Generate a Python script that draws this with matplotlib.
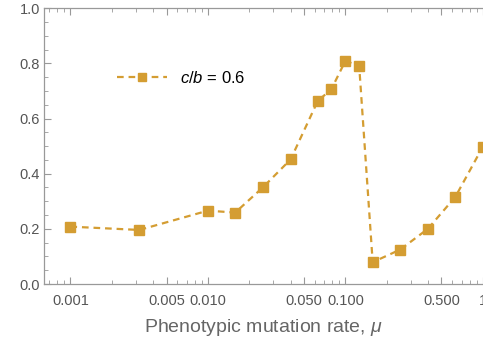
import matplotlib
matplotlib.use("Agg")
import matplotlib.pyplot as plt
import matplotlib.ticker as mticker
import numpy as np

plt.rcParams['font.family'] = ['Liberation Sans', 'DejaVu Sans']
plt.rcParams['mathtext.fontset'] = 'custom'
plt.rcParams['mathtext.rm'] = 'Liberation Sans'
plt.rcParams['mathtext.it'] = 'Liberation Sans:italic'

mu = [0.001, 0.00317, 0.01, 0.0158, 0.0252, 0.040, 0.063, 0.079, 0.1, 0.126, 0.158, 0.251, 0.398, 0.631, 1.0]
freq = [0.208, 0.196, 0.266, 0.259, 0.351, 0.452, 0.664, 0.706, 0.809, 0.791, 0.079, 0.125, 0.200, 0.316, 0.498]
series_label = r'$c/b$ = 0.6'
xlabel = r'Phenotypic mutation rate, $\mu$'
xticks = [0.001, 0.005, 0.010, 0.050, 0.100, 0.500, 1]
xticklabels = ['0.001', '0.005', '0.010', '0.050', '0.100', '0.500', '1']
yticks = [0.0, 0.2, 0.4, 0.6, 0.8, 1.0]

color = '#D49D32'
gray = '#999999'

fig = plt.figure(figsize=(4.83, 3.43), dpi=100)
ax = fig.add_axes([0.0917, 0.172, 0.9083, 0.804])
ax.plot(mu, freq, color=color, lw=1.6, dashes=(3, 2.2), marker='s', ms=7.5,
        mec=color, mfc=color, label=series_label, clip_on=True)
ax.set_xscale('log')
ax.set_xlim(10**-3.19, 10**0.001)
ax.set_ylim(0, 1.0)

ax.set_xticks(xticks)
ax.set_xticklabels(xticklabels)
ax.xaxis.set_minor_locator(mticker.LogLocator(base=10, subs=np.arange(2, 10)))
ax.xaxis.set_minor_formatter(mticker.NullFormatter())
ax.set_yticks(yticks)
ax.set_yticklabels([f'{v:.1f}' for v in yticks])
ax.yaxis.set_minor_locator(mticker.MultipleLocator(0.05))

ax.spines['right'].set_visible(False)
for s in ['left', 'bottom', 'top']:
    ax.spines[s].set_color(gray)
    ax.spines[s].set_linewidth(0.9)

ax.tick_params(which='both', direction='in', color=gray, top=True, right=False,
               labelcolor='#555555', labelsize=10.5)
ax.tick_params(which='major', length=5, width=0.8)
ax.tick_params(which='minor', length=3, width=0.6)
ax.tick_params(axis='x', which='major', pad=7)
ax.tick_params(axis='y', which='major', pad=3)

ax.set_xlabel(xlabel, fontsize=14, color='#666666', labelpad=7)

leg = ax.legend(loc='center left', bbox_to_anchor=(0.166, 0.746), frameon=False,
                handlelength=3.0, handletextpad=0.8, fontsize=12, markerscale=0.75,
                borderaxespad=0, borderpad=0)
for t in leg.get_texts():
    t.set_color('black')

fig.savefig('out.png', dpi=100)
